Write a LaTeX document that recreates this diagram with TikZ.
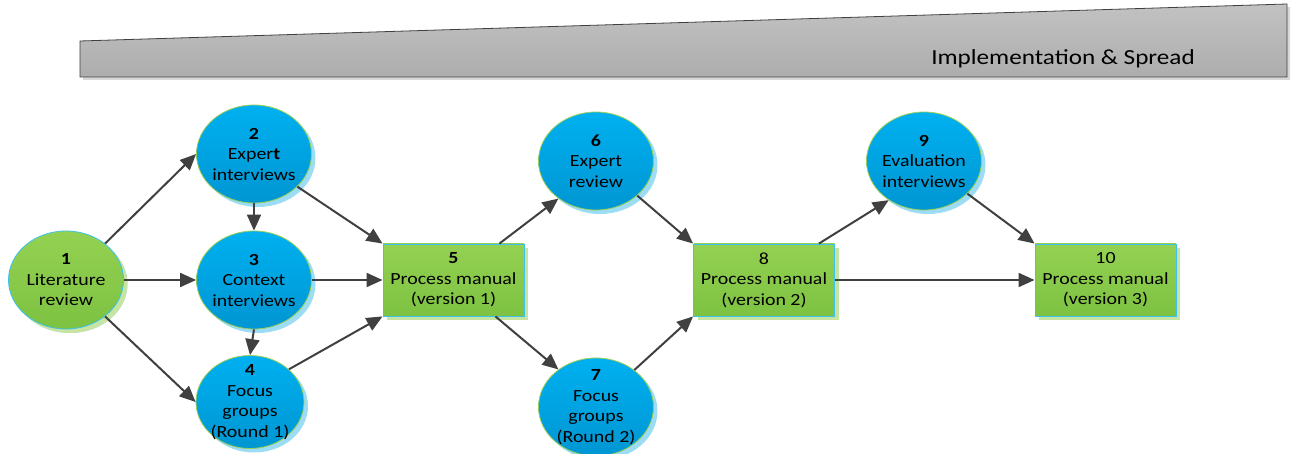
\documentclass[tikz,border=0pt]{standalone}
\usepackage{fontspec}
\setmainfont{Carlito}[FakeStretch=1.17]
\usetikzlibrary{arrows.meta,shadows,shapes.geometric}
\definecolor{blueTop}{HTML}{00B0F0}
\definecolor{blueBot}{HTML}{0096D2}
\definecolor{blueShadow}{HTML}{9DDCF5}
\definecolor{greenTop}{HTML}{94D152}
\definecolor{greenBot}{HTML}{7DC242}
\definecolor{greenShadow}{HTML}{C8E4A2}
\definecolor{circBorder}{HTML}{9CCF55}
\definecolor{boxBorder}{HTML}{3CC2EE}
\definecolor{arrowGray}{HTML}{404040}
\definecolor{wedgeTop}{HTML}{C2C2C2}
\definecolor{wedgeBot}{HTML}{ADADAD}
\definecolor{wedgeShadow}{HTML}{D8D8D8}
\newcommand\ndfont{\fontsize{17}{20.5}\selectfont}
\tikzset{
  circ/.style={ellipse, minimum width=115pt, minimum height=98pt, inner sep=0pt,
    draw=circBorder, line width=0.8pt, top color=blueTop, bottom color=blueBot,
    drop shadow={fill=blueShadow, shadow xshift=4pt, shadow yshift=-4pt, opacity=1}},
  gcirc/.style={circ, draw=boxBorder, top color=greenTop, bottom color=greenBot,
    drop shadow={fill=greenShadow, shadow xshift=4pt, shadow yshift=-4pt, opacity=1}},
  lbl/.style={align=center, font=\ndfont, inner sep=0pt},
  pbox/.style={rectangle, minimum width=141pt, minimum height=72pt, inner sep=0pt,
    draw=boxBorder, line width=0.9pt, top color=greenTop, bottom color=greenBot,
    align=center, font=\ndfont,
    drop shadow={fill=greenShadow, shadow xshift=4pt, shadow yshift=-4pt, opacity=1}},
  arr/.style={draw=arrowGray, line width=2pt, -{Triangle[length=16pt,width=14pt]}},
}
\begin{document}
\begin{tikzpicture}[x=1pt,y=-1pt]
\useasboundingbox (0,0) rectangle (1292,454);
% wedge
\fill[wedgeShadow] (83,44) -- (1290,7) -- (1290,80) -- (83,80) -- cycle;
\draw[draw=arrowGray, line width=0.8pt, top color=wedgeTop, bottom color=wedgeBot]
  (80,41) -- (1287,4) -- (1287,77) -- (80,77) -- cycle;
\node[font=\fontsize{21.5}{26}\selectfont, inner sep=0pt] (wtxt) at (1063,59) {Implementation \& Spread};
% circles
\node[gcirc] (c1) at (66,280) {};
\node[lbl] (t1) at (c1) {\textbf{1}\\Literature\\review};
\node[circ] (c2) at (254,154) {};
\node[lbl] (t2) at (c2) {\textbf{2}\\Exper\textbf{t}\\interviews};
\node[circ] (c3) at (254,280) {};
\node[lbl] (t3) at (c3) {\textbf{3}\\Context\\interviews};
\node[circ, minimum width=108pt, minimum height=93pt] (c4) at (250,402) {};
\node[lbl] (t4) at (c4) {\textbf{4}\\Focus\\groups\\(Round 1)};
\node[circ] (c6) at (596,161) {};
\node[lbl] (t6) at (c6) {\textbf{6}\\Expert\\review};
\node[circ] (c7) at (596,407) {};
\node[lbl] (t7) at (c7) {\textbf{7}\\Focus\\groups\\(Round 2)};
\node[circ] (c9) at (924,161) {};
\node[lbl] (t9) at (c9) {\textbf{9}\\Evaluation\\interviews};
% boxes
\node[pbox] (b5) at (453.5,280) {\textbf{5}\\Process manual\\(version 1)};
\node[pbox] (b8) at (764,280) {8\\Process manual\\(version 2)};
\node[pbox] (b10) at (1105.5,280) {10\\Process manual\\(version 3)};
% arrows
\draw[arr] (c1.43) -- (c2.west);
\draw[arr] (c1.east) -- (c3.west);
\draw[arr] (c1.-43) -- (c4.west);
\draw[arr] (c2.south) -- (c3.north);
\draw[arr] (c3.south) -- (c4.north);
\draw[arr] (c2.-37) -- (b5.north west);
\draw[arr] (c3.east) -- (b5.west);
\draw[arr] (c4.40) -- (b5.south west);
\draw[arr] ([xshift=-25pt]b5.north east) -- (c6.225);
\draw[arr] ([xshift=-29pt]b5.south east) -- (c7.135);
\draw[arr] (c6.-40) -- (b8.north west);
\draw[arr] (c7.44) -- (b8.south west);
\draw[arr] ([xshift=-16pt]b8.north east) -- (c9.228);
\draw[arr] (c9.-37) -- (b10.north west);
\draw[arr] (b8.east) -- (b10.west);
\end{tikzpicture}
\end{document}
